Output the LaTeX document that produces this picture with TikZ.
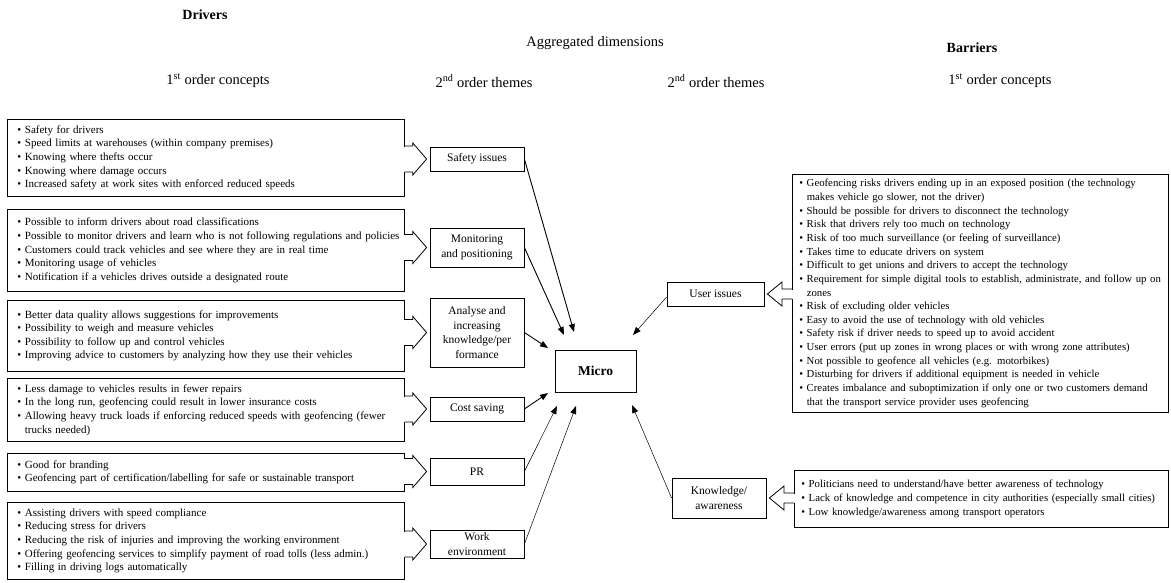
\documentclass[tikz,border=0pt]{standalone}
\usepackage{fontspec}
\setmainfont{Liberation Serif}
\usetikzlibrary{calc,arrows.meta}
\newcommand\bl[1]{\mbox{\textbullet\ #1}}
\newcommand\cl[1]{\mbox{\phantom{\textbullet\ }#1}}
\newcommand\blockright[2]{%
  \fill[white] ($(#1.east|-#2.west)+(-1,-12.5)$) rectangle ($(#1.east|-#2.west)+(1,12.5)$);
  \draw[blk] ($(#1.east|-#2.west)+(0,-13)$) -- ++(8,0) -- ++(0,-3) -- ($(#2.west)+(-3,0)$) -- ($(#1.east|-#2.west)+(8,16)$) -- ++(0,-3) -- ++(-8,0);
}
\newcommand\blockleft[2]{%
  \fill[white] ($(#1.west|-#2.east)+(-1,-4.5)$) rectangle ($(#1.west|-#2.east)+(1,4.5)$);
  \draw[blk] ($(#1.west|-#2.east)+(0,-5)$) -- ++(-10,0) -- ++(0,-7) -- ($(#2.east)+(3,0)$) -- ($(#1.west|-#2.east)+(-10,12)$) -- ++(0,-7) -- ++(10,0);
}
\tikzset{
  cbox/.style={draw, line width=0.8pt, anchor=north west, inner xsep=10pt, inner ysep=0pt, align=left, font=\fontsize{11}{13.6}\selectfont},
  rbox/.style={cbox, inner xsep=7pt, font=\fontsize{10.75}{13.65}\selectfont},
  tbox/.style={draw, line width=0.8pt, align=center, inner sep=0pt, minimum width=94pt, font=\fontsize{11.5}{14.5}\selectfont},
  head/.style={font=\fontsize{14.5}{16}\selectfont},
  bighead/.style={font=\bfseries\fontsize{14}{16}\selectfont},
  blk/.style={line width=0.8pt, line join=miter},
  tolink/.style={line width=0.9pt, -{Triangle[length=8pt,width=6pt]}},
  tolinkthin/.style={line width=0.5pt, -{Triangle[length=8pt,width=6pt]}},
}
\begin{document}
\begin{tikzpicture}[x=1pt,y=-1pt]
\useasboundingbox (0,0) rectangle (1171,582);
% headers
\node[bighead] (hdr) at (205,15) {Drivers};
\node[bighead] (hbr) at (972,48) {Barriers};
\node[head] (hag) at (595,43) {Aggregated dimensions};
\node[head] (h1) at (218,81) {1\textsuperscript{st} order concepts};
\node[head] (h2) at (484,81) {2\textsuperscript{nd} order themes};
\node[head] (h3) at (716,81) {2\textsuperscript{nd} order themes};
\node[head] (h4) at (1000,81) {1\textsuperscript{st} order concepts};
% left concept boxes
\node[cbox, minimum width=397pt, text width=377pt, minimum height=77pt] (b1) at (7,119) {%
\bl{Safety for drivers}\\
\bl{Speed limits at warehouses (within company premises)}\\
\bl{Knowing where thefts occur}\\
\bl{Knowing where damage occurs}\\
\bl{Increased safety at work sites with enforced reduced speeds}};
\node[cbox, minimum width=397pt, text width=377pt, minimum height=82pt] (b2) at (7,209) {%
\bl{Possible to inform drivers about road classifications}\\
\bl{Possible to monitor drivers and learn who is not following regulations and policies}\\
\bl{Customers could track vehicles and see where they are in real time}\\
\bl{Monitoring usage of vehicles}\\
\bl{Notification if a vehicles drives outside a designated route}};
\node[cbox, minimum width=397pt, text width=377pt, minimum height=71pt] (b3) at (7,300) {%
\bl{Better data quality allows suggestions for improvements}\\
\bl{Possibility to weigh and measure vehicles}\\
\bl{Possibility to follow up and control vehicles}\\
\bl{Improving advice to customers by analyzing how they use their vehicles}};
\node[cbox, minimum width=397pt, text width=377pt, minimum height=63pt] (b4) at (7,378) {%
\bl{Less damage to vehicles results in fewer repairs}\\
\bl{In the long run, geofencing could result in lower insurance costs}\\
\bl{Allowing heavy truck loads if enforcing reduced speeds with geofencing (fewer}\\
\cl{trucks needed)}};
\node[cbox, minimum width=397pt, text width=377pt, minimum height=38pt] (b5) at (7,453) {%
\bl{Good for branding}\\
\bl{Geofencing part of certification/labelling for safe or sustainable transport}};
\node[cbox, minimum width=397pt, text width=377pt, minimum height=77pt] (b6) at (7,502) {%
\bl{Assisting drivers with speed compliance}\\
\bl{Reducing stress for drivers}\\
\bl{Reducing the risk of injuries and improving the working environment}\\
\bl{Offering geofencing services to simplify payment of road tolls (less admin.)}\\
\bl{Filling in driving logs automatically}};
% left themes
\node[tbox, minimum height=24pt] (t1) at (477,159) {Safety issues};
\node[tbox, minimum height=39pt] (t2) at (477,247.5) {Monitoring\\and positioning};
\node[tbox, minimum height=69pt] (t3) at (477,332.5) {Analyse and\\increasing\\knowledge/per\\formance};
\node[tbox, minimum height=24pt] (t4) at (477,409) {Cost saving};
\node[tbox, minimum height=27pt] (t5) at (477,471.5) {PR};
\node[tbox, minimum height=28pt] (t6) at (477,544) {Work\\environment};
% micro
\node[draw, line width=1pt, minimum width=81pt, minimum height=42pt, inner sep=0pt, font=\bfseries\fontsize{13.5}{15}\selectfont] (mi) at (595.5,371) {Micro};
% right themes
\node[tbox, minimum width=97pt, minimum height=24pt] (u) at (715.5,294) {User issues};
\node[tbox, minimum height=40pt] (k) at (719,498) {Knowledge/\\awareness};
% right concept boxes
\node[rbox, minimum width=376pt, text width=362pt, minimum height=238pt] (r1) at (792,174) {%
\bl{Geofencing risks drivers ending up in an exposed position (the technology}\\
\cl{makes vehicle go slower, not the driver)}\\
\bl{Should be possible for drivers to disconnect the technology}\\
\bl{Risk that drivers rely too much on technology}\\
\bl{Risk of too much surveillance (or feeling of surveillance)}\\
\bl{Takes time to educate drivers on system}\\
\bl{Difficult to get unions and drivers to accept the technology}\\
\bl{Requirement for simple digital tools to establish, administrate, and follow up on}\\
\cl{zones}\\
\bl{Risk of excluding older vehicles}\\
\bl{Easy to avoid the use of technology with old vehicles}\\
\bl{Safety risk if driver needs to speed up to avoid accident}\\
\bl{User errors (put up zones in wrong places or with wrong zone attributes)}\\
\bl{Not possible to geofence all vehicles (e.g. motorbikes)}\\
\bl{Disturbing for drivers if additional equipment is needed in vehicle}\\
\bl{Creates imbalance and suboptimization if only one or two customers demand}\\
\cl{that the transport service provider uses geofencing}};
\node[rbox, minimum width=374pt, text width=360pt, minimum height=57pt] (r2) at (794,470) {%
\bl{Politicians need to understand/have better awareness of technology}\\
\bl{Lack of knowledge and competence in city authorities (especially small cities)}\\
\bl{Low knowledge/awareness among transport operators}};
% block arrows
\blockright{b1}{t1}
\blockright{b2}{t2}
\blockright{b3}{t3}
\blockright{b4}{t4}
\blockright{b5}{t5}
\blockright{b6}{t6}
\blockleft{r1}{u}
\blockleft{r2}{k}
% arrow ends near Micro
\coordinate (m1) at (574,332);
\coordinate (m2) at (564,335);
\coordinate (m3) at (548,348);
\coordinate (m4) at (548,393);
\coordinate (m5) at (557,406);
\coordinate (m6) at (576,406);
\coordinate (m7) at (633,335);
\coordinate (m8) at (632,405);
\draw[tolink] (t1.east) -- (m1);
\draw[tolink] (t2.east) -- (m2);
\draw[tolink] (t3.east) -- (m3);
\draw[tolink] (t4.east) -- (m4);
\draw[tolinkthin] (t5.east) -- (m5);
\draw[tolinkthin] (t6.east) -- (m6);
\draw[tolinkthin] ($(u.west)+(0,3)$) -- (m7);
\draw[tolinkthin] (k.west) -- (m8);
\end{tikzpicture}
\end{document}
